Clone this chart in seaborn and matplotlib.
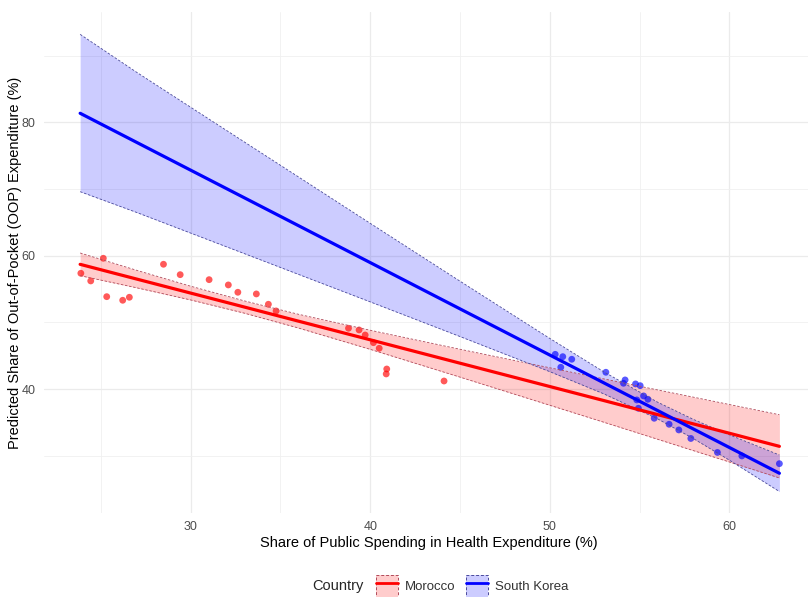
import numpy as np
import pandas as pd
import seaborn as sns
import matplotlib.pyplot as plt
from matplotlib.ticker import MultipleLocator
from matplotlib.patches import Patch
from matplotlib.lines import Line2D
from matplotlib.legend_handler import HandlerTuple

morocco_x = [23.89, 24.44, 25.14, 25.33, 26.22, 26.59, 28.49, 29.42, 31.03, 32.10, 32.63,
             33.66, 34.33, 34.76, 38.79, 39.38, 39.72, 40.18, 40.50, 40.92, 40.89, 44.11]
morocco_y = [57.36, 56.21, 59.61, 53.85, 53.31, 53.76, 58.71, 57.15, 56.40, 55.61, 54.51,
             54.26, 52.71, 51.71, 49.11, 48.86, 48.10, 46.95, 46.11, 43.00, 42.26, 41.20]
korea_x = [50.30, 50.72, 51.22, 50.61, 53.12, 54.19, 54.10, 54.77, 55.03, 55.22,
           55.46, 54.84, 54.93, 55.81, 56.64, 57.18, 57.85, 59.33, 60.69, 62.78]
korea_y = [45.20, 44.85, 44.46, 43.26, 42.51, 41.36, 40.86, 40.76, 40.50, 38.96,
           38.46, 38.36, 37.11, 35.61, 34.71, 33.86, 32.58, 30.48, 29.96, 28.80]

# predicted line and confidence band
pred_x = [23.85, 27, 30, 33, 36, 40, 45, 50, 53, 56, 58, 60, 62.78]
morocco_fit = [58.70, 56.49, 54.39, 52.29, 50.18, 47.38, 43.87, 40.37, 38.27, 36.16, 34.76, 33.36, 31.40]
morocco_lo = [57.00, 55.18, 53.36, 51.37, 49.15, 45.95, 41.78, 37.56, 35.02, 32.46, 30.75, 29.05, 26.66]
morocco_hi = [60.40, 57.80, 55.42, 53.21, 51.21, 48.81, 45.96, 43.18, 41.52, 39.86, 38.77, 37.67, 36.14]
korea_fit = [81.36, 76.99, 72.83, 68.67, 64.51, 58.96, 52.02, 45.09, 40.93, 36.77, 33.99, 31.22, 27.36]
korea_lo = [69.60, 66.48, 63.39, 60.30, 57.20, 53.07, 47.87, 42.60, 39.28, 35.52, 32.55, 29.32, 24.62]
korea_hi = [93.20, 87.50, 82.27, 77.04, 71.82, 64.85, 56.17, 47.58, 42.58, 38.02, 35.43, 33.12, 30.10]

countries = ["Morocco", "South Korea"]
pal = {"Morocco": "#FF0000", "South Korea": "#0000FF"}
edge = {"Morocco": "#B04A5A", "South Korea": "#4A4A9A"}

pts = pd.DataFrame({
    "x": morocco_x + korea_x,
    "y": morocco_y + korea_y,
    "Country": ["Morocco"] * len(morocco_x) + ["South Korea"] * len(korea_x),
})
pred = pd.DataFrame({
    "x": pred_x + pred_x,
    "fit": morocco_fit + korea_fit,
    "lo": morocco_lo + korea_lo,
    "hi": morocco_hi + korea_hi,
    "Country": ["Morocco"] * len(pred_x) + ["South Korea"] * len(pred_x),
})

sns.set_theme(style="white")
plt.rcParams["font.family"] = ["Liberation Sans", "DejaVu Sans"]

fig = plt.figure(figsize=(8.08, 5.97), dpi=100)
ax = fig.add_axes([0.0545, 0.1407, 0.953, 0.8392])

# ribbons with dashed borders
for c in countries:
    sub = pred[pred["Country"] == c]
    ax.fill_between(sub["x"], sub["lo"], sub["hi"], color=pal[c], alpha=0.2, lw=0)
    ax.plot(sub["x"], sub["lo"], color=edge[c], lw=0.6, ls=(0, (3, 2)))
    ax.plot(sub["x"], sub["hi"], color=edge[c], lw=0.6, ls=(0, (3, 2)))

sns.scatterplot(data=pts, x="x", y="y", hue="Country", palette=pal, s=24,
                alpha=0.65, edgecolor="none", legend=False, ax=ax)
sns.lineplot(data=pred, x="x", y="fit", hue="Country", palette=pal, lw=2.3,
             legend=False, ax=ax)

ax.set_xlim(21.84, 64.71)
ax.set_ylim(21.4, 96.55)
ax.xaxis.set_major_locator(MultipleLocator(10))
ax.xaxis.set_minor_locator(MultipleLocator(5))
ax.yaxis.set_major_locator(MultipleLocator(20))
ax.yaxis.set_minor_locator(MultipleLocator(10))
ax.grid(which="major", color="#EBEBEB", lw=0.9)
ax.grid(which="minor", color="#F0F0F0", lw=0.6)
ax.set_axisbelow(True)
for s in ax.spines.values():
    s.set_visible(False)
ax.tick_params(which="both", length=0, labelsize=9, labelcolor="#4D4D4D")
ax.tick_params(axis="y", pad=6)
ax.tick_params(axis="x", pad=6)

ax.set_xlabel("Share of Public Spending in Health Expenditure (%)", fontsize=10.5, color="black")
ax.set_ylabel("Predicted Share of Out-of-Pocket (OOP) Expenditure (%)", fontsize=10.5, color="black")
ax.xaxis.set_label_coords(0.5, -0.06)
ax.xaxis.label.set_va("center")
ax.yaxis.set_label_coords(-0.0377, 0.5)
ax.yaxis.label.set_va("center")

# legend at the bottom: fill box, dashed border and line drawn on top of each other
handles = []
for c in countries:
    box = Patch(facecolor=pal[c], alpha=0.2, edgecolor="none")
    border = Patch(facecolor="none", edgecolor=edge[c], lw=0.7, ls=(0, (3, 2)))
    ln = Line2D([], [], color=pal[c], lw=2)
    handles.append((box, border, ln))
fig.text(312 / 808, 1 - 586 / 597, "Country", fontsize=10.5, va="center", ha="left")
fig.legend(handles, countries, handler_map={tuple: HandlerTuple(ndivide=1)},
           loc="center left", bbox_to_anchor=(364 / 808, 1 - 586 / 597), ncol=2,
           frameon=False, fontsize=9.5, handlelength=1.7, handleheight=2.1,
           handletextpad=0.5, columnspacing=0.8, labelcolor="#333333")

fig.savefig("out.png", dpi=100)
